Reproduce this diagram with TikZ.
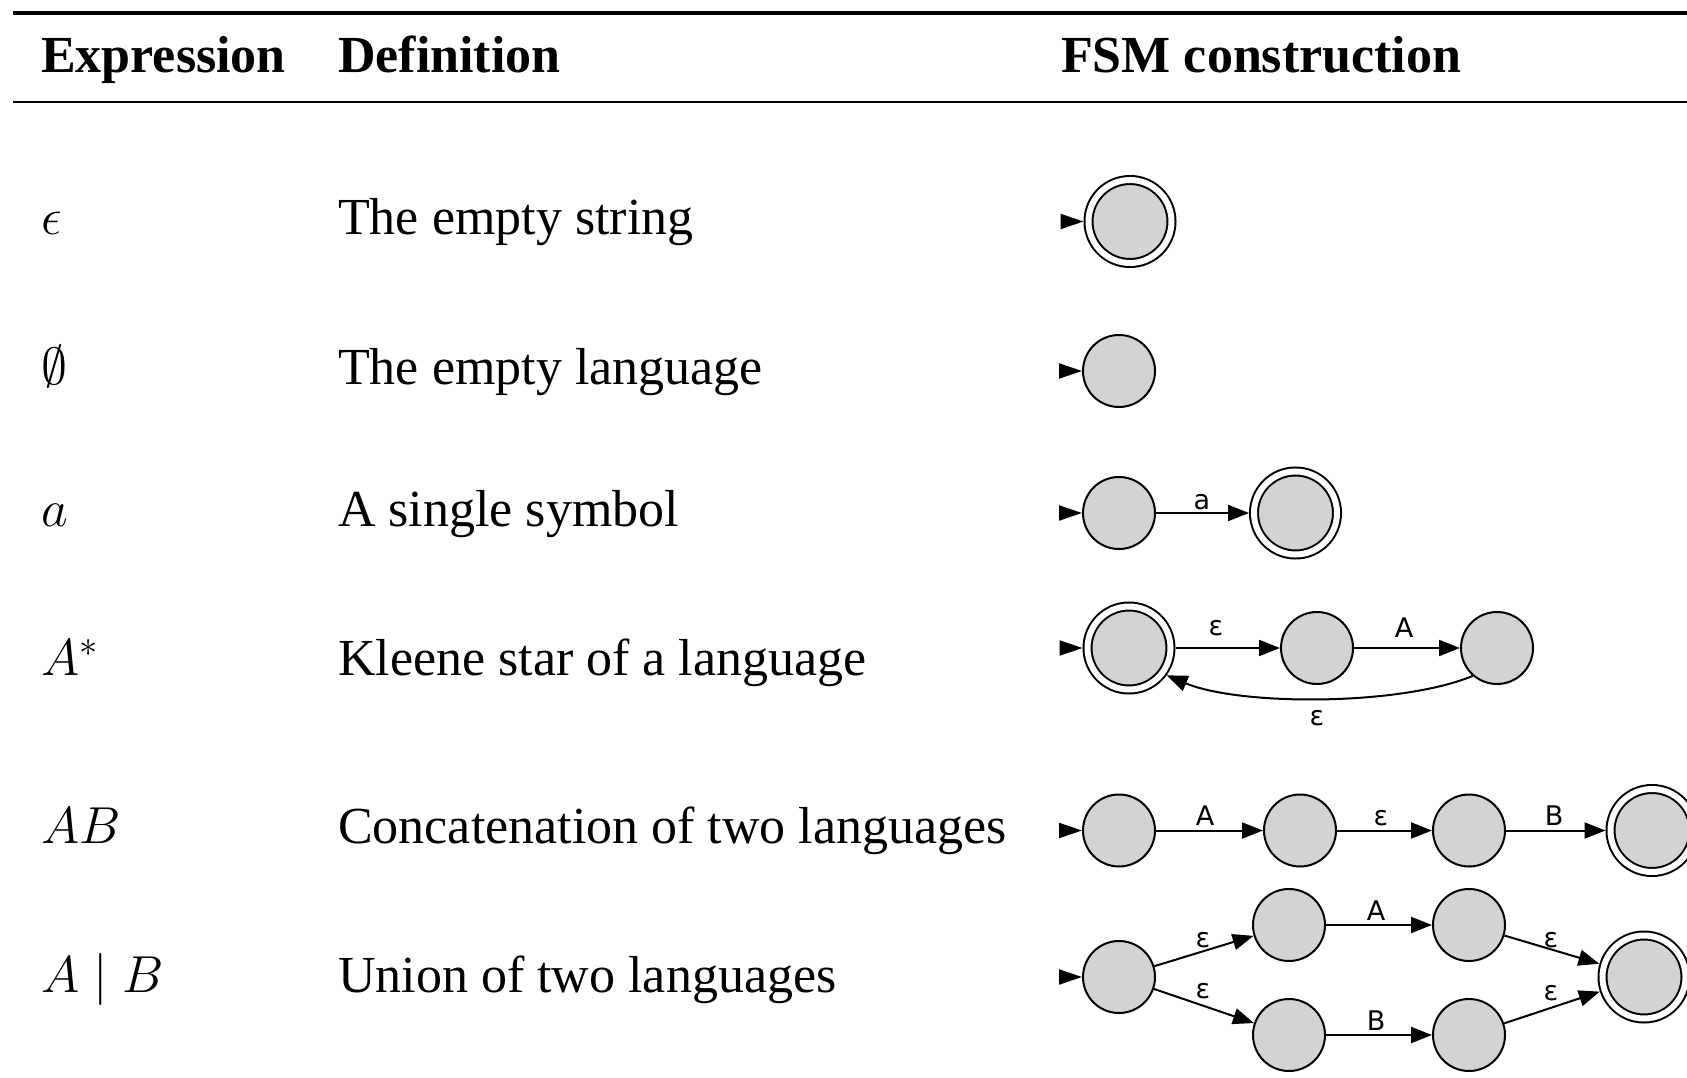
\RequirePackage{fix-cm}
\documentclass[tikz,border=0pt]{standalone}
\usepackage{fontspec}
\setmainfont{Liberation Serif}
\newfontfamily\labelfont{DejaVu Sans}
\usetikzlibrary{arrows.meta}
\definecolor{statefill}{HTML}{D3D3D3}

\tikzset{
  state/.style={circle, draw, line width=2pt, fill=statefill, minimum size=72pt, inner sep=0pt, outer sep=1pt},
  accept/.style={state, double, double distance=6pt, minimum size=83pt, outer sep=5pt},
  trans/.style={line width=2pt, -{Triangle[length=21pt,width=16pt]}},
  initarrow/.style={line width=2pt, -{Triangle[length=23pt,width=15pt]}},
  lbl/.style={font=\labelfont\fontsize{27}{27}\selectfont, anchor=base, inner sep=0pt},
  cell/.style={font=\fontsize{52}{60}\selectfont, anchor=base west, inner sep=0pt},
  headcell/.style={font=\bfseries\fontsize{52}{60}\selectfont, anchor=base west, inner sep=0pt},
  rule/.style={line width=#1}
}

\begin{document}
\begin{tikzpicture}[x=1pt, y=-1pt]
\useasboundingbox (0,0) rectangle (1687,1078);

% table rules
\draw[rule=4pt] (13,13) -- (1687,13);
\draw[rule=2.5pt] (13,102) -- (1687,102);

% header
\node[headcell] (hexp) at (41,73) {Expression};
\node[headcell] (hdef) at (338,73) {Definition};
\node[headcell] (hfsm) at (1061,73) {FSM construction};

% expressions and definitions
\node[cell] (x1) at (41,234.5) {$\epsilon$};
\node[cell] (d1) at (338,234.5) {The empty string};
\node[cell] (x2) at (41,384) {$\emptyset$};
\node[cell] (d2) at (338,384) {The empty language};
\node[cell] (x3) at (41,526) {$a$};
\node[cell] (d3) at (338,526) {A single symbol};
\node[cell] (x4) at (41,675.5) {$A^*$};
\node[cell] (d4) at (338,675.5) {Kleene star of a language};
\node[cell] (x5) at (41,843) {$AB$};
\node[cell] (d5) at (338,843) {Concatenation of two languages};
\node[cell] (x6) at (41,992) {$A \mid B$};
\node[cell] (d6) at (338,992) {Union of two languages};

% epsilon
\node[accept] (e0) at (1130,221.5) {};
\coordinate (ie) at (1060.5,221.5);
\draw[initarrow] (ie) -- (e0);

% empty language
\node[state] (n0) at (1119,371) {};
\coordinate (in) at (1059,371);
\draw[initarrow] (in) -- (n0);

% single symbol
\node[state] (a0) at (1119,513) {};
\node[accept] (a1) at (1295.5,513) {};
\coordinate (ia) at (1059,513);
\draw[initarrow] (ia) -- (a0);
\draw[trans] (a0) -- (a1);
\node[lbl] (la) at (1202,509) {a};

% Kleene star
\node[accept] (s0) at (1129,648) {};
\node[state] (s1) at (1317,648) {};
\node[state] (s2) at (1497,648) {};
\coordinate (is) at (1059.5,648);
\draw[initarrow] (is) -- (s0);
\draw[trans] (s0) -- (s1);
\draw[trans] (s1) -- (s2);
\draw[trans] (s2.229) .. controls (1400,706) and (1240,706) .. (s0.324);
\node[lbl] (ls1) at (1216,635) {ε};
\node[lbl] (ls2) at (1404,637) {A};
\node[lbl] (ls3) at (1317,725) {ε};

% concatenation
\node[state] (c0) at (1119,830.5) {};
\node[state] (c1) at (1300,830.5) {};
\node[state] (c2) at (1469,830.5) {};
\node[accept] (c3) at (1652,830.5) {};
\coordinate (ic) at (1059,830.5);
\draw[initarrow] (ic) -- (c0);
\draw[trans] (c0) -- (c1);
\draw[trans] (c1) -- (c2);
\draw[trans] (c2) -- (c3);
\node[lbl] (lc1) at (1205,825) {A};
\node[lbl] (lc2) at (1381,825) {ε};
\node[lbl] (lc3) at (1554,825) {B};

% union
\node[state] (u0) at (1119,977) {};
\node[state] (u1) at (1289,925) {};
\node[state] (u2) at (1469,925) {};
\node[state] (l1) at (1289,1035) {};
\node[state] (l2) at (1469,1035) {};
\node[accept] (u3) at (1644,977) {};
\coordinate (iu) at (1059,977);
\draw[initarrow] (iu) -- (u0);
\draw[trans] (u0) -- (u1);
\draw[trans] (u0) -- (l1);
\draw[trans] (u1) -- (u2);
\draw[trans] (l1) -- (l2);
\draw[trans] (u2) -- (u3);
\draw[trans] (l2) -- (u3);
\node[lbl] (lu1) at (1203,947) {ε};
\node[lbl] (lu2) at (1203,998) {ε};
\node[lbl] (lu3) at (1376,920) {A};
\node[lbl] (lu4) at (1376,1030) {B};
\node[lbl] (lu5) at (1551,947) {ε};
\node[lbl] (lu6) at (1551,1000) {ε};
\end{tikzpicture}
\end{document}
